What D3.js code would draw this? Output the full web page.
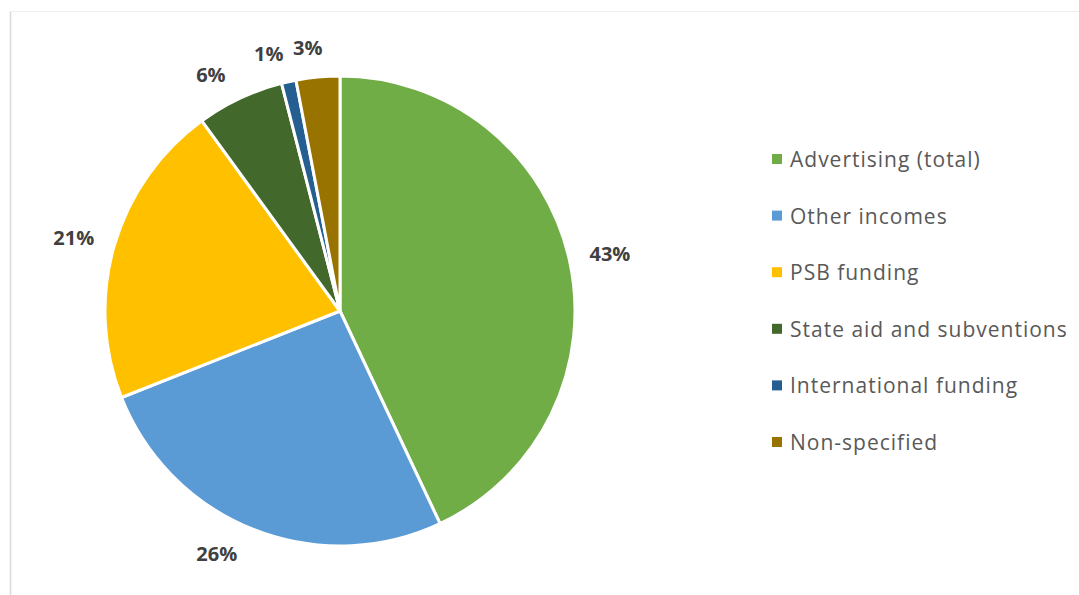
<!DOCTYPE html>
<html>
<head>
<meta charset="utf-8">
<script src="https://cdn.jsdelivr.net/npm/d3@7"></script>
<style>
  html, body { margin: 0; padding: 0; background: #fff; }
  svg { display: block; }
</style>
</head>
<body>
<svg id="chart" width="1079" height="595"></svg>
<script>
// Income sources, share of total (%)
const categories = ["Advertising (total)", "Other incomes", "PSB funding",
  "State aid and subventions", "International funding", "Non-specified"];
const shares = [43, 26, 21, 6, 1, 3];
const colors = ["#70AD47", "#5B9BD5", "#FFC000", "#43682B", "#255E91", "#997300"];

const W = 1079, H = 595;
const svg = d3.select("#chart");

// chart frame (left and top edges)
svg.append("line").attr("x1", 10.5).attr("x2", 10.5).attr("y1", 11).attr("y2", H)
  .attr("stroke", "#d9d9d9").attr("stroke-width", 1.5);
svg.append("line").attr("x1", 10).attr("x2", W).attr("y1", 11.5).attr("y2", 11.5)
  .attr("stroke", "#efefef").attr("stroke-width", 1);

const cx = 340, cy = 311, R = 235;
const data = categories.map((c, i) => ({ cat: c, value: shares[i], color: colors[i] }));

const pie = d3.pie().value(d => d.value).sort(null);
const arcs = pie(data);
const arc = d3.arc().innerRadius(0).outerRadius(R);

const g = svg.append("g").attr("transform", `translate(${cx},${cy})`);
g.selectAll("path").data(arcs).join("path")
  .attr("d", arc)
  .attr("fill", d => d.data.color)
  .attr("stroke", "#fff")
  .attr("stroke-width", 3)
  .attr("stroke-linejoin", "round");

// data labels outside the rim: the label box sits a fixed gap beyond the edge
const gap = 19;
const labelTurn = [0.01, 0.094, -0.014, -0.06, -0.05, -0.028]; // angular nudges (radians)
const labels = g.selectAll("text.val").data(arcs).join("text")
  .attr("class", "val")
  .attr("text-anchor", "middle")
  .attr("dominant-baseline", "central")
  .attr("font-family", "'Open Sans', sans-serif")
  .attr("font-weight", "bold")
  .attr("font-size", 20)
  .attr("fill", "#404040")
  .text(d => d.data.value + "%");

labels.attr("transform", function (d, i) {
  const bb = this.getBBox();
  const a = (d.startAngle + d.endAngle) / 2 + labelTurn[i];
  const s = Math.sin(a), c = Math.cos(a);
  const r = R + gap + Math.abs(s) * bb.width / 2 + Math.abs(c) * (bb.height * 0.35);
  return `translate(${r * s},${-r * c})`;
});

// legend
const legend = svg.append("g").attr("transform", "translate(772,159)");
const rowStep = 56.6;
const rows = legend.selectAll("g").data(data).join("g")
  .attr("transform", (d, i) => `translate(0,${i * rowStep})`);
rows.append("rect").attr("x", 0).attr("y", -5).attr("width", 10).attr("height", 10)
  .attr("fill", d => d.color);
rows.append("text").attr("x", 18).attr("y", 0)
  .attr("dominant-baseline", "central")
  .attr("font-family", "'Open Sans', sans-serif")
  .attr("font-size", 21)
  .attr("letter-spacing", 1.0)
  .attr("fill", "#595959")
  .text(d => d.cat);
</script>
</body>
</html>
